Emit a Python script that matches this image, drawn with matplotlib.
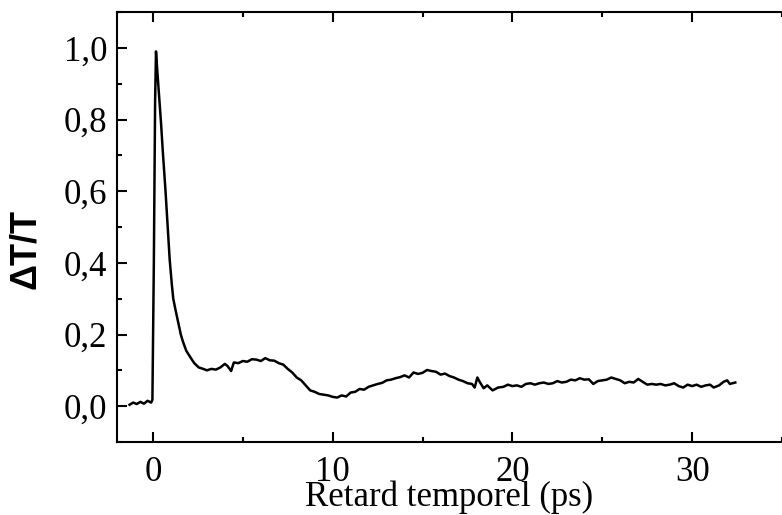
import numpy as np
import matplotlib
matplotlib.use('Agg')
import matplotlib.pyplot as plt
from matplotlib.ticker import MultipleLocator, FuncFormatter

# pump-probe trace
delay_ps = [
    -1.3, -1.1, -0.9, -0.7, -0.5, -0.3, -0.1, -0.03,
    0.05, 0.12, 0.17, 0.25, 0.35, 0.45, 0.55, 0.7, 0.82, 0.93, 1.05, 1.13,
    1.25, 1.4, 1.55, 1.67, 1.85, 2.1, 2.3, 2.55, 2.8,
    3.0, 3.25, 3.5, 3.75, 4.0, 4.15, 4.35, 4.5, 4.75, 5.0, 5.25, 5.5, 5.75,
    6.0, 6.25, 6.5, 6.75, 7.0, 7.25, 7.5, 7.75, 8.0, 8.25, 8.5, 8.75,
    9.0, 9.25, 9.5, 9.75, 10.0, 10.25, 10.5, 10.75, 11.0, 11.25, 11.5, 11.75,
    12.0, 12.25, 12.5, 12.75, 13.0, 13.25, 13.5, 13.75, 14.0, 14.25, 14.5, 14.75,
    15.0, 15.25, 15.5, 15.75, 16.0, 16.25, 16.5, 16.75, 17.0, 17.25, 17.5, 17.75,
    17.9, 18.05, 18.2, 18.4, 18.6, 18.9, 19.2, 19.5, 19.75,
    20.0, 20.25, 20.5, 20.75, 21.0, 21.25, 21.5, 21.75, 22.0, 22.25, 22.5, 22.75,
    23.0, 23.25, 23.5, 23.75, 24.0, 24.25, 24.5, 24.75, 25.0, 25.25, 25.5, 25.75,
    26.0, 26.25, 26.5, 26.75, 27.0, 27.25, 27.5, 27.75, 28.0, 28.25, 28.5, 28.75,
    29.0, 29.25, 29.5, 29.75, 30.0, 30.25, 30.5, 30.75, 31.0, 31.2, 31.5, 31.75,
    31.95, 32.1, 32.4,
]
dT_T = [
    0.004, 0.010, 0.006, 0.012, 0.007, 0.015, 0.010, 0.018,
    0.40, 0.85, 0.99, 0.93, 0.86, 0.79, 0.71, 0.60, 0.50, 0.41, 0.34, 0.30,
    0.27, 0.235, 0.20, 0.18, 0.155, 0.135, 0.12, 0.108, 0.104,
    0.100, 0.104, 0.102, 0.108, 0.118, 0.112, 0.098, 0.122, 0.120, 0.126, 0.124, 0.131, 0.130,
    0.126, 0.134, 0.128, 0.127, 0.120, 0.116, 0.104, 0.094, 0.080, 0.072, 0.058, 0.044,
    0.040, 0.034, 0.032, 0.030, 0.026, 0.024, 0.030, 0.027, 0.038, 0.040, 0.048, 0.046,
    0.054, 0.058, 0.062, 0.065, 0.072, 0.074, 0.078, 0.081, 0.086, 0.080, 0.094, 0.090,
    0.093, 0.101, 0.098, 0.096, 0.088, 0.091, 0.084, 0.080, 0.074, 0.070, 0.064, 0.062,
    0.052, 0.080, 0.066, 0.050, 0.058, 0.044, 0.052, 0.054, 0.060,
    0.056, 0.058, 0.054, 0.062, 0.064, 0.060, 0.064, 0.066, 0.062, 0.064, 0.070, 0.066,
    0.068, 0.074, 0.072, 0.078, 0.074, 0.075, 0.062, 0.070, 0.072, 0.074, 0.080, 0.076,
    0.072, 0.064, 0.068, 0.066, 0.076, 0.068, 0.060, 0.062, 0.060, 0.062, 0.058, 0.060,
    0.064, 0.056, 0.052, 0.060, 0.056, 0.060, 0.054, 0.058, 0.060, 0.052, 0.058, 0.068,
    0.072, 0.062, 0.066,
]

x_ticks = [0, 10, 20, 30]
y_ticks = [0.0, 0.2, 0.4, 0.6, 0.8, 1.0]

serif = 'Liberation Serif'

fig = plt.figure(figsize=(7.82, 5.15), dpi=100)
ax = fig.add_axes([117 / 782, 73 / 515, 665 / 782, 430 / 515])

ax.plot(delay_ps, dT_T, color='black', lw=1.8)

ax.set_xlim(-2, 35)
ax.set_ylim(-0.1, 1.1)
ax.set_xticks(x_ticks)
ax.set_yticks(y_ticks)
ax.xaxis.set_minor_locator(MultipleLocator(5))
ax.yaxis.set_minor_locator(MultipleLocator(0.1))
ax.yaxis.set_major_formatter(FuncFormatter(lambda v, p: f"{v:.1f}".replace('.', ',')))

ax.spines['right'].set_visible(False)
for s in ('left', 'bottom', 'top'):
    ax.spines[s].set_linewidth(1.5)

ax.tick_params(which='both', direction='in', top=True, right=False, width=1.5)
ax.tick_params(which='major', length=7, pad=7)
ax.tick_params(axis='x', which='major', pad=10)
ax.tick_params(which='minor', length=3.5)
for lab in ax.get_xticklabels() + ax.get_yticklabels():
    lab.set_fontfamily(serif)
    lab.set_fontsize(25)

ax.set_xlabel('Retard temporel (ps)', fontfamily=serif, fontsize=25, labelpad=-6)
ax.set_ylabel('ΔT/T', fontfamily='Liberation Sans', fontsize=26, fontweight='bold')
ax.yaxis.set_label_coords(-0.111, 0.449)

fig.savefig('out.png', dpi=100)
